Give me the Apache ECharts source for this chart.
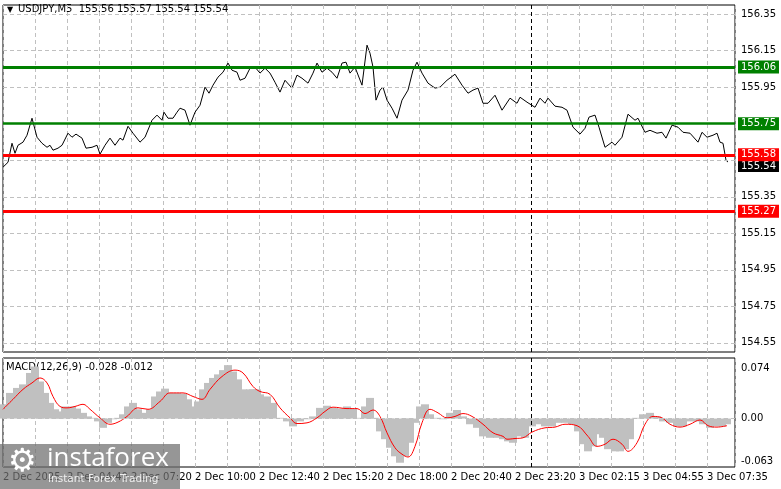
<!DOCTYPE html>
<html>
<head>
<meta charset="utf-8">
<script src="https://cdn.jsdelivr.net/npm/echarts@6/dist/echarts.min.js"></script>
<style>
  html, body { margin: 0; padding: 0; background: #fff; }
  #chart { width: 781px; height: 489px; }
</style>
</head>
<body>
<div id="chart"></div>
<script>
// bar index (5-minute bars) -> price
const priceBars = [0,2.5,4.5,6,7.5,10,12,14.5,17,19.5,22,23.5,25,27.5,29.5,32.5,34.5,36.5,39.5,41.5,44.5,47,48.5,51,53.5,56,58.5,60,62.5,65,68.5,71,74.5,77,79.5,80.5,82.5,85,87,88.5,91,93.5,96,98.5,101,103,105,107.5,110,112.5,114.5,117,118.5,121,123.5,126,128.5,131,133.5,136,138.5,141,144.5,147,149.5,152.5,155,157,159.5,162,164.5,167,169.5,171.5,173.5,176,179.5,182,183.5,185,186.5,188.5,190,192,194.5,197,199.5,202.5,205,207,209.5,212.5,216,218.5,222,226,229.5,232.5,235,237.5,240,242.5,246,249.5,253.5,257,258.5,262,266,268.5,271,272.5,276,279.5,282,285,288.5,291,293,296,298,301,304.5,306,309.5,312.5,316,317.5,321,323.5,327,329.5,331.5,334.5,337.5,340,343.5,347.5,349.5,352,355,357,358.5,360,361.5,362.5];
const prices = [155.512,155.539,155.643,155.588,155.632,155.649,155.687,155.780,155.676,155.643,155.621,155.632,155.605,155.616,155.632,155.698,155.676,155.693,155.671,155.616,155.621,155.632,155.583,155.632,155.671,155.632,155.671,155.660,155.736,155.698,155.649,155.676,155.769,155.797,155.769,155.813,155.780,155.780,155.813,155.835,155.824,155.742,155.813,155.851,155.950,155.917,155.961,156.005,156.032,156.082,156.043,156.032,155.988,155.999,156.054,156.060,156.027,156.054,156.027,155.977,155.923,155.988,155.945,156.016,155.999,155.972,156.027,156.082,156.032,156.054,156.032,155.999,156.082,156.087,156.027,156.060,155.961,156.180,156.136,156.060,155.879,155.934,155.950,155.879,155.835,155.780,155.879,155.934,156.043,156.087,156.027,155.972,155.945,155.950,155.988,156.021,155.961,155.917,155.934,155.945,155.862,155.862,155.906,155.824,155.890,155.862,155.895,155.868,155.840,155.890,155.862,155.890,155.846,155.840,155.824,155.731,155.693,155.725,155.786,155.797,155.731,155.621,155.649,155.632,155.676,155.802,155.769,155.780,155.703,155.714,155.698,155.703,155.671,155.742,155.731,155.703,155.698,155.649,155.703,155.676,155.687,155.698,155.649,155.643,155.550,155.540];

// MACD histogram: bar index -> value
const histBars = [0,3.5,7,10,13.5,16,18.5,21,23.5,26,28.5,31,34.5,37,40,42.5,45,47.5,50,52.5,55,57.5,60,62.5,65,67.5,70,73.5,76,78.5,81,83.5,87,90,92.5,95,97.5,100,102.5,105,107.5,110,112.5,115,117.5,120,123.5,127,125,128.5,132,135,138.5,142,145,148.5,152,155,158.5,162,165.5,168.5,172,175,178.5,181,183.5,186,188.5,191,193.5,196,198.5,201,203.5,206,208.5,211,213.5,217,220,223.5,227,230,233.5,237,240,243.5,247,250,252.5,255,257.5,261,264.5,267.5,271,274.5,277.5,281,284.5,287.5,290,292.5,295,297.5,300,302.5,306,308.5,311,313.5,316.5,320,323.5,327,330,333.5,337,340,343.5,347,350,353.5,357,359.5,362];
const histValues = [0.020,0.036,0.043,0.048,0.064,0.073,0.052,0.036,0.022,0.013,0.010,0.017,0.017,0.014,0.008,0.003,0.001,-0.004,-0.013,-0.006,-0.001,0.001,0.006,0.017,0.022,0.013,0.008,0.013,0.031,0.038,0.042,0.036,0.036,0.035,0.027,0.017,0.024,0.041,0.050,0.057,0.062,0.068,0.075,0.066,0.055,0.041,0.041,0.041,0.041,0.034,0.031,0.022,0.001,-0.004,-0.011,-0.004,-0.001,0.003,0.015,0.018,0.015,0.014,0.017,0.014,0.001,0.017,0.029,0.001,-0.018,-0.029,-0.041,-0.053,-0.062,-0.053,-0.034,-0.006,0.017,0.020,0.006,0.001,-0.001,0.008,0.012,0.003,-0.008,-0.013,-0.025,-0.027,-0.027,-0.029,-0.032,-0.034,-0.025,-0.027,-0.011,-0.008,-0.011,-0.011,-0.006,-0.006,-0.008,-0.018,-0.036,-0.046,-0.039,-0.022,-0.027,-0.043,-0.046,-0.046,-0.043,-0.029,0.001,0.006,0.008,0.003,-0.004,-0.006,-0.011,-0.011,-0.004,-0.004,-0.008,-0.013,-0.011,-0.011,-0.008,-0.008,-0.032];

// MACD signal line: bar index -> value
const sigBars = [0,5,10,14.5,18.5,22,25,28.5,32,36,40,43.5,48.5,53.5,57.5,62,67.5,72.5,78.5,83.5,90,95,99.5,103.5,109.5,116,120,125,128.5,133.5,138.5,143.5,147,152,157,161,165,172,177,181,185,188.5,192,196,199.5,202.5,206,209.5,213.5,217.5,222,226,230,234.5,240,245,250,252,256,260,264.5,271,276,281,287,292.5,297,301,305,309.5,312.5,317,321,325,329.5,333.5,338.5,343.5,348.5,352.5,357,362];
const sigValues = [0.013,0.027,0.041,0.050,0.057,0.050,0.031,0.017,0.015,0.017,0.020,0.013,0.001,-0.008,-0.005,0.003,0.015,0.013,0.024,0.036,0.036,0.031,0.027,0.041,0.059,0.068,0.064,0.045,0.038,0.034,0.015,0.001,-0.007,-0.006,0.001,0.010,0.016,0.014,0.014,0.007,0.012,0.003,-0.020,-0.041,-0.050,-0.054,-0.039,-0.006,0.013,0.008,0.001,0.003,0.007,0.003,-0.008,-0.020,-0.025,-0.029,-0.028,-0.027,-0.019,-0.013,-0.012,-0.008,-0.010,-0.025,-0.039,-0.036,-0.029,-0.036,-0.046,-0.034,-0.008,0.003,0.001,-0.008,-0.012,-0.008,-0.002,-0.010,-0.012,-0.010,-0.013];

const timeLabels = ["2 Dec 2025", "2 Dec 04:40", "2 Dec 07:20", "2 Dec 10:00", "2 Dec 12:40", "2 Dec 15:20",
  "2 Dec 18:00", "2 Dec 20:40", "2 Dec 23:20", "3 Dec 02:15", "3 Dec 04:55", "3 Dec 07:35"];
const priceTicks = [154.55, 154.75, 154.95, 155.15, 155.35, 155.55, 155.75, 155.95, 156.15, 156.35];
const greenLevels = [156.06, 155.75];
const redLevels = [155.58, 155.27];
const lastPrice = 155.54;
const macdTicks = [0.074, 0.00, -0.063];
const daySplitBar = 264;

const FONT = "DejaVu Sans";
const myChart = echarts.init(document.getElementById("chart"));

function levelLine(v, color, width) {
  return {
    yAxis: v,
    lineStyle: { color: color, width: width, type: "solid" },
    label: {
      show: true, position: "end", distance: 3, formatter: v.toFixed(2),
      color: "#fff", backgroundColor: color, padding: [2, 3, 1, 3],
      fontFamily: FONT, fontSize: 10
    }
  };
}

const xAxisBase = {
  type: "value", min: 0, max: 366, interval: 16,
  axisLine: { show: false }, axisTick: { show: false },
  splitLine: { show: true, lineStyle: { type: [4, 3], color: "#c0c0c0" } }
};

myChart.setOption({
  animation: false,
  textStyle: { fontFamily: FONT },
  grid: [
    { left: 3, right: 46, top: 5, bottom: 137, show: true, borderColor: "#000", borderWidth: 1 },
    { left: 3, right: 46, top: 358, bottom: 22, show: true, borderColor: "#000", borderWidth: 1 }
  ],
  xAxis: [
    Object.assign({ gridIndex: 0, axisLabel: { show: false } }, xAxisBase),
    Object.assign({
      gridIndex: 1,
      axisLabel: {
        show: true, align: "left", margin: 5, color: "#000", fontSize: 10, fontFamily: FONT,
        formatter: v => (v % 32 === 0 ? (timeLabels[v / 32] || "") : "")
      }
    }, xAxisBase)
  ],
  yAxis: [
    {
      gridIndex: 0, type: "value", position: "right", min: 154.5, max: 156.4, interval: 0.05,
      axisLine: { show: false }, axisTick: { show: false }, splitLine: { show: false },
      axisLabel: {
        color: "#000", fontSize: 10, margin: 6,
        formatter: v => {
          const hit = priceTicks.some(t => Math.abs(t - v) < 1e-6);
          return hit && Math.abs(v - 155.75) > 1e-6 ? v.toFixed(2) : "";
        }
      }
    },
    {
      gridIndex: 1, type: "value", position: "right", min: -0.068, max: 0.085,
      axisLine: { show: false }, axisTick: { show: false }, splitLine: { show: false },
      axisLabel: { show: false }
    }
  ],
  series: [
    {
      type: "line", xAxisIndex: 0, yAxisIndex: 0, symbol: "none",
      lineStyle: { color: "#000", width: 1 },
      data: priceBars.map((b, i) => [b, prices[i]]),
      markLine: {
        silent: true, symbol: "none", animation: false,
        data: priceTicks.map(t => ({ yAxis: t, lineStyle: { type: [4, 3], color: "#c0c0c0", width: 1 }, label: { show: false } }))
          .concat([{ xAxis: daySplitBar, lineStyle: { type: [4, 3], color: "#000", width: 1 }, label: { show: false } }])
          .concat([{
            yAxis: lastPrice, lineStyle: { color: "rgba(0,0,0,0)" },
            label: { show: true, position: "end", distance: 3, offset: [0, 4], formatter: lastPrice.toFixed(2),
              color: "#fff", backgroundColor: "#000", padding: [1, 3, 1, 3], fontFamily: FONT, fontSize: 10 }
          }])
          .concat(greenLevels.map((v, i) => levelLine(v, "#008000", i === 0 ? 3 : 2.5)))
          .concat(redLevels.map(v => levelLine(v, "#ff0000", 3)))
      },
      z: 3
    },
    {
      type: "bar", xAxisIndex: 1, yAxisIndex: 1, barWidth: 8, barGap: "-100%",
      itemStyle: { color: "#c0c0c0" },
      data: histBars.map((b, i) => [b, histValues[i]]),
      markLine: {
        silent: true, symbol: "none",
        data: [
          { yAxis: 0, lineStyle: { type: [4, 3], color: "#c0c0c0", width: 1 }, label: { show: false } },
          { xAxis: daySplitBar, lineStyle: { type: [4, 3], color: "#000", width: 1 }, label: { show: false } }
        ]
      },
      z: 2
    },
    {
      type: "line", xAxisIndex: 1, yAxisIndex: 1, symbol: "none", smooth: 0.4,
      lineStyle: { color: "#ff0000", width: 1 },
      data: sigBars.map((b, i) => [b, sigValues[i]]),
      markLine: {
        silent: true, symbol: "none",
        data: macdTicks.map(t => ({
          yAxis: t,
          lineStyle: { color: "rgba(0,0,0,0)", width: 1 },
          label: { show: true, position: "end", distance: 6, formatter: t.toFixed(t === 0 ? 2 : 3),
            color: "#000", fontSize: 10, fontFamily: FONT }
        }))
      },
      z: 3
    }
  ],
  graphic: [
    { type: "text", left: 7, top: 6, style: { text: "▼", fontSize: 8, fill: "#000", fontFamily: FONT } },
    { type: "text", left: 18, top: 4, style: { text: "USDJPY,M5  155.56 155.57 155.54 155.54", fontSize: 10, fill: "#000", fontFamily: FONT } },
    { type: "text", left: 6, top: 362, style: { text: "MACD(12,26,9) -0.028 -0.012", fontSize: 10, fill: "#000", fontFamily: FONT } },
    { type: "rect", left: 0, top: 444, shape: { width: 180, height: 45 }, style: { fill: "rgba(110,110,110,0.72)" }, z: 100 },
    { type: "text", left: 8, top: 447, style: { text: "⚙", fontSize: 32, fill: "#fff", fontFamily: FONT }, z: 101 },
    { type: "text", left: 47, top: 446, style: { text: "instaforex", fontSize: 26, fill: "#fff", fontFamily: "Open Sans" }, z: 101 },
    { type: "text", left: 48, top: 474, style: { text: "Instant Forex Trading", fontSize: 10.5, fill: "rgba(255,255,255,0.85)", fontFamily: FONT }, z: 101 }
  ]
});
</script>
</body>
</html>
